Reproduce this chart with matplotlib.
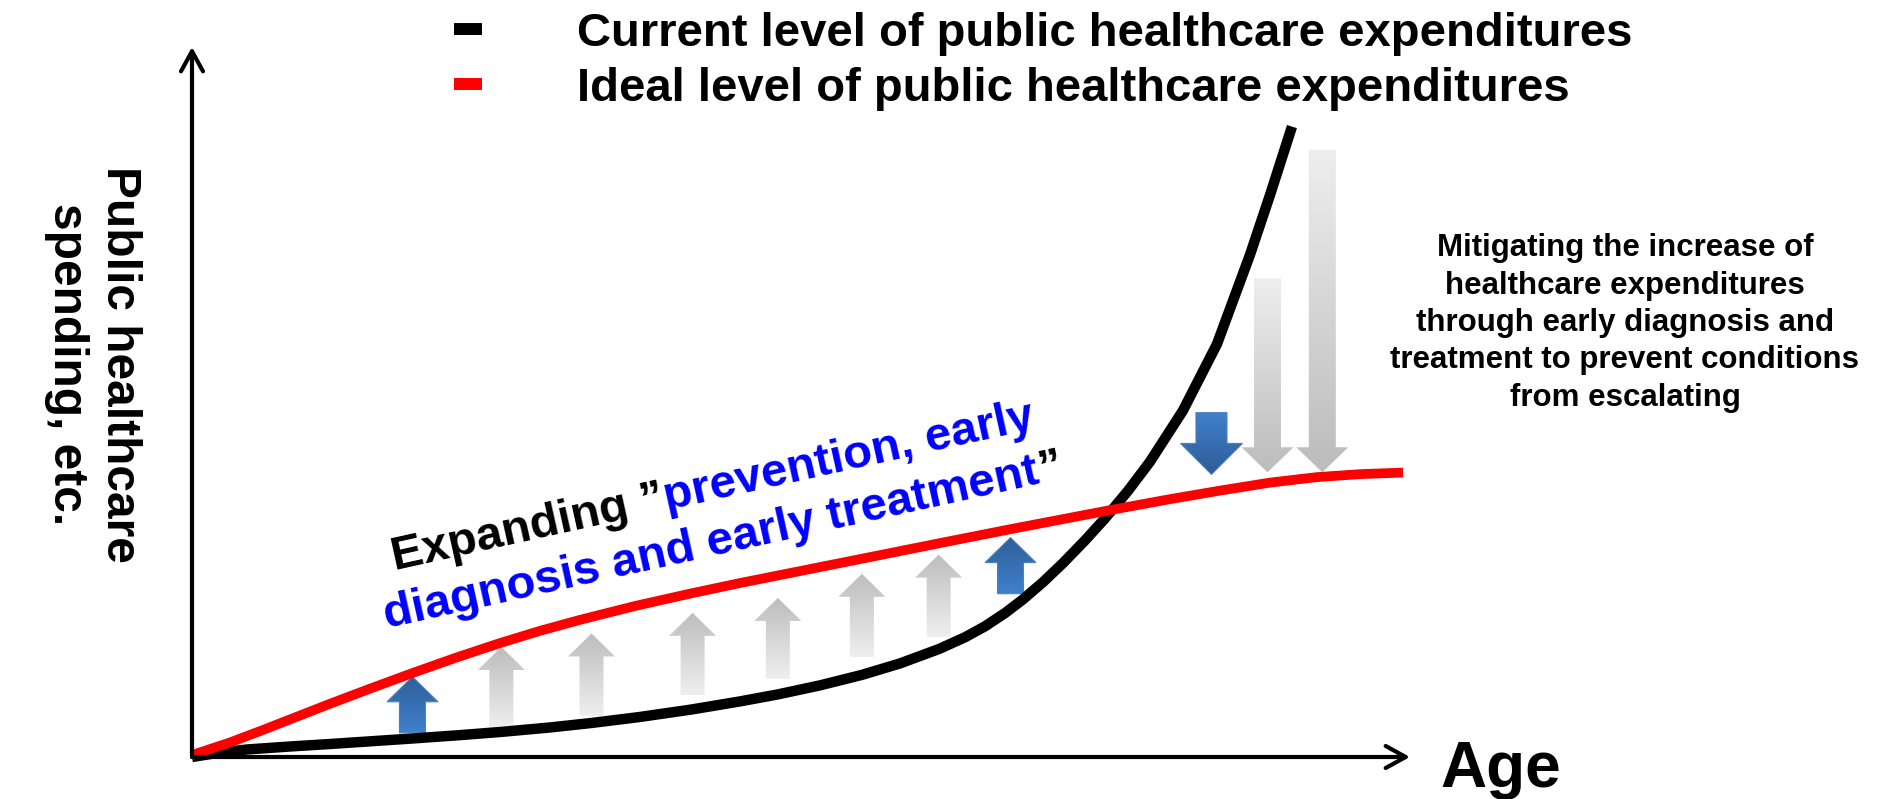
import numpy as np
import matplotlib
matplotlib.use('Agg')
import matplotlib.pyplot as plt
from matplotlib.patches import Polygon
from matplotlib.lines import Line2D
from matplotlib.colors import LinearSegmentedColormap

plt.rcParams['font.family'] = ['Liberation Sans', 'DejaVu Sans']
plt.rcParams['font.weight'] = 'bold'

# curves (age index 0-100, spending index 0-100)
current_x = [0, 2.30, 4.52, 8.05, 11.33, 18.14, 22.00, 25.37, 29.39, 32.84, 36.78, 41.05,
             44.99, 48.11, 51.56, 55.01, 58.13, 61.33, 63.46, 65.11, 66.75, 68.23, 69.87,
             71.51, 73.32, 74.96, 76.85, 78.65, 81.36, 84.15, 86.86, 88.51, 90.31]
current_y = [0, 0.63, 1.06, 1.48, 1.83, 2.61, 3.08, 3.53, 4.16, 4.80, 5.64, 6.70,
             7.83, 8.82, 10.09, 11.57, 13.18, 15.21, 16.86, 18.41, 20.27, 22.21, 24.63,
             27.31, 30.51, 33.61, 37.50, 41.59, 48.80, 58.15, 70.72, 79.17, 88.79]
ideal_x = [0, 3.12, 5.83, 8.87, 11.33, 14.78, 18.14, 21.67, 25.29, 28.57, 31.86, 36.45,
           41.05, 44.99, 48.11, 55.01, 61.33, 67.41, 75.37, 80.30, 84.40, 88.51, 92.36,
           95.89, 99.43]
ideal_y = [0.28, 2.05, 3.81, 5.85, 7.50, 9.73, 11.85, 13.99, 16.05, 17.77, 19.32, 21.30,
           23.07, 24.50, 25.57, 27.93, 30.10, 32.16, 34.77, 36.32, 37.52, 38.65, 39.42,
           39.84, 40.06]

# up arrows (gap to close) and down arrows (reduction)
up_x = [18.1, 25.4, 32.8, 41.1, 48.1, 55.0, 61.3, 67.2]
up_base = [3.4, 4.0, 5.8, 8.7, 11.0, 14.1, 16.9, 23.0]
up_tip = [11.3, 15.5, 17.4, 20.3, 22.4, 25.8, 28.5, 30.9]
up_kind = ['blue', 'gray', 'gray', 'gray', 'gray', 'gray', 'gray', 'blue']
down_x = [83.7, 88.3, 92.8]
down_top = [48.5, 67.4, 85.5]
down_tip = [39.8, 40.1, 40.1]
down_kind = ['blue', 'gray', 'gray']

legend_labels = ['Current level of public healthcare expenditures',
                 'Ideal level of public healthcare expenditures']
ylabel = 'Public healthcare\nspending, etc.'
xlabel = 'Age'
note = ('Mitigating the increase of\nhealthcare expenditures\nthrough early diagnosis and\n'
        'treatment to prevent conditions\nfrom escalating')
slogan1 = [('Expanding \u201d', 'black'), ('prevention, early', '#0000ff')]
slogan2 = [('diagnosis and early treatment', '#0000ff'), ('\u201d', 'black')]

W, H = 1881, 799
fig = plt.figure(figsize=(W / 100, H / 100), dpi=100)
ax = fig.add_axes([192 / W, 42 / H, 1218 / W, 710 / H])
ax.set_xlim(0, 100)
ax.set_ylim(0, 100)
ax.axis('off')

# px -> data scale
sx = 100 / 1218
sy = 100 / 710

colors = {
    ('gray', 'up'): ('#efefef', '#bdbdbd'),
    ('gray', 'down'): ('#bcbcbc', '#eeeeee'),
    ('blue', 'up'): ('#4080cd', '#2f5f98'),
    ('blue', 'down'): ('#2e5c96', '#4080ce'),
}
sizes = {  # shaft width, head width, head length (px)
    ('gray', 'up'): (24, 47, 23),
    ('blue', 'up'): (26, 51, 25),
    ('gray', 'down'): (27, 52, 25),
    ('blue', 'down'): (31, 62, 31),
}


def draw_arrow(xc, y0, y1, kind, direction):
    sw, hw, hl = sizes[(kind, direction)]
    sw, hw, hl = sw * sx, hw * sx, hl * sy
    s = 1 if y1 > y0 else -1
    yh = y1 - s * hl
    verts = [(xc - sw / 2, y0), (xc + sw / 2, y0), (xc + sw / 2, yh), (xc + hw / 2, yh),
             (xc, y1), (xc - hw / 2, yh), (xc - sw / 2, yh)]
    poly = Polygon(verts, closed=True, facecolor='none', edgecolor='none', zorder=1)
    ax.add_patch(poly)
    c_bottom, c_top = colors[(kind, direction)]
    cmap = LinearSegmentedColormap.from_list('g', [c_bottom, c_top])
    grad = np.linspace(0, 1, 256).reshape(-1, 1)
    im = ax.imshow(grad, cmap=cmap, extent=[xc - hw / 2, xc + hw / 2, min(y0, y1), max(y0, y1)],
                   origin='lower', aspect='auto', zorder=1, interpolation='bilinear')
    im.set_clip_path(poly)
    if kind == 'blue':
        ax.add_patch(Polygon(verts, closed=True, facecolor='none', edgecolor='#4f81bd',
                             lw=0.8, zorder=1.1))


for x, b, t, k in zip(up_x, up_base, up_tip, up_kind):
    draw_arrow(x, b, t, k, 'up')
for x, t, tip, k in zip(down_x, down_top, down_tip, down_kind):
    draw_arrow(x, t, tip, k, 'down')
ax.set_xlim(0, 100)
ax.set_ylim(0, 100)

ax.plot(current_x, current_y, color='black', lw=7.5, solid_capstyle='butt',
        solid_joinstyle='round', zorder=2, clip_on=False)
ax.plot(ideal_x, ideal_y, color='#ff0000', lw=7, solid_capstyle='butt',
        solid_joinstyle='round', zorder=3, clip_on=False)

# axes arrows
for tip in [(100, 0), (0, 100)]:
    ax.annotate('', xy=tip, xytext=(0, 0), annotation_clip=False,
                arrowprops=dict(arrowstyle='->,head_length=1.0,head_width=0.55', lw=3,
                                color='black', mutation_scale=14.4, shrinkA=0, shrinkB=0,
                                capstyle='round', joinstyle='round'), zorder=4)

# legend
handles = [Line2D([], [], color='black', lw=8.6, solid_capstyle='butt'),
           Line2D([], [], color='#ff0000', lw=8.6, solid_capstyle='butt')]
fig.legend(handles, legend_labels, loc='upper left', bbox_to_anchor=(454 / W, 1 - 12 / H),
           frameon=False, fontsize=34, handlelength=0.6, handletextpad=2.0,
           labelspacing=0.23, borderpad=0, borderaxespad=0)

fig.text(1440 / W, 1 - 787 / H, xlabel, fontsize=46, ha='left', va='baseline')
fig.text(93 / W, 1 - 364 / H, ylabel, fontsize=34.5, rotation=270, ha='center',
         va='center', multialignment='center', linespacing=1.25)
fig.text(1625 / W, 1 - 323 / H, note, fontsize=22.5, ha='center', va='center',
         multialignment='center', linespacing=1.32)

# rotated two-colour slogan
renderer = fig.canvas.get_renderer()
ang = 12.5
ca, sa = np.cos(np.radians(ang)), np.sin(np.radians(ang))


def write_line(pieces, x0, y0):
    x, y = x0, H - y0
    for s, c in pieces:
        fig.text(x / W, y / H, s, fontsize=34, color=c, rotation=ang,
                 rotation_mode='anchor', ha='left', va='baseline')
        tmp = fig.text(0, 0, s, fontsize=34)
        w = tmp.get_window_extent(renderer).width
        tmp.remove()
        x += w * ca
        y += w * sa


write_line(slogan1, 395, 570)
write_line(slogan2, 387, 628)

fig.savefig('out.png', dpi=100)
